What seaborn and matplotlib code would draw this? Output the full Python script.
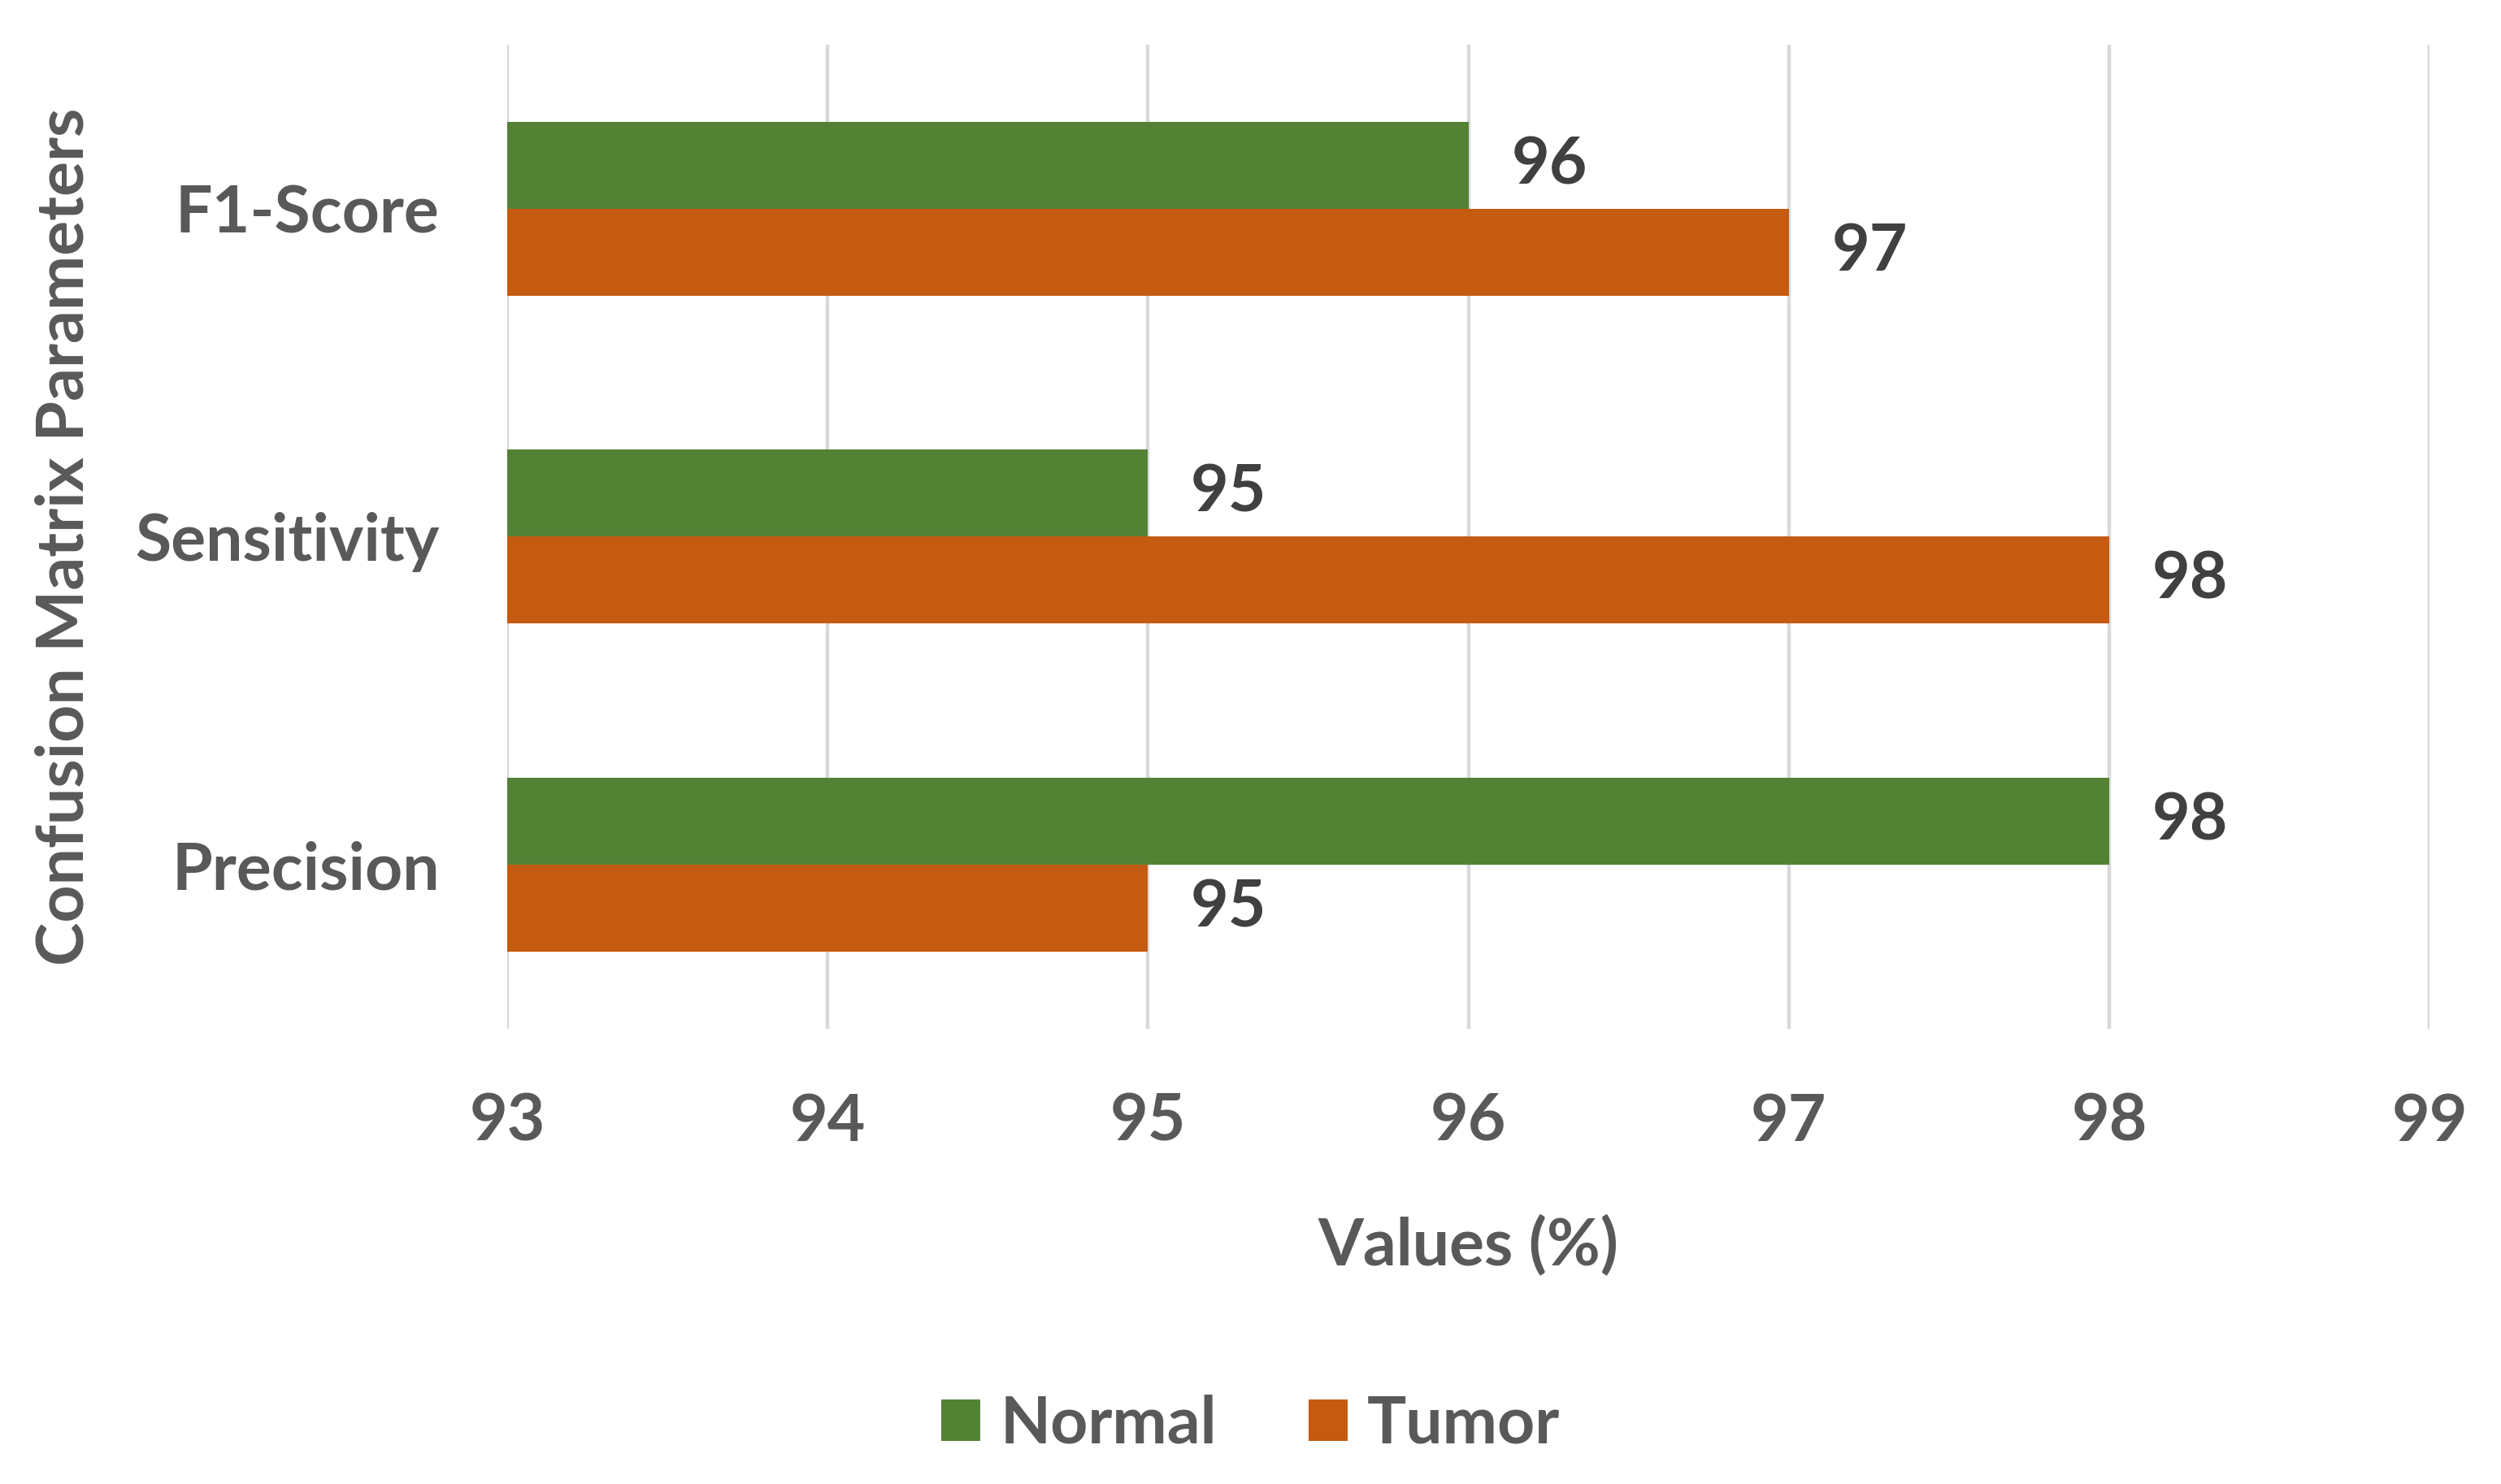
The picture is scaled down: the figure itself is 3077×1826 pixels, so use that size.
import pandas as pd
import matplotlib.pyplot as plt
import seaborn as sns

# values
parameters = ['F1-Score', 'Sensitivity', 'Precision']
normal_values = [96, 95, 98]
tumor_values = [97, 98, 95]
x_ticks = [93, 94, 95, 96, 97, 98, 99]

df = pd.DataFrame({
    'Parameter': parameters * 2,
    'Value': normal_values + tumor_values,
    'Class': ['Normal'] * 3 + ['Tumor'] * 3,
})

sns.set_style("white")
plt.rcParams['font.family'] = ['Lato', 'DejaVu Sans']
plt.rcParams['font.weight'] = 'bold'

text_grey = '#595959'
palette = {'Normal': '#548235', 'Tumor': '#C55A11'}

fig = plt.figure(figsize=(15.385, 9.13), dpi=200)
ax = fig.add_axes([0.2028, 0.3067, 0.7686, 0.6633])

sns.barplot(data=df, y='Parameter', x='Value', hue='Class', order=parameters,
            palette=palette, width=0.53, saturation=1, linewidth=0,
            ax=ax, orient='h')

ax.set_xlim(93, 99)
ax.set_xticks(x_ticks)
ax.set_ylim(2.5, -0.5)
ax.xaxis.grid(True, color='#D9D9D9', linewidth=1.6)
ax.set_axisbelow(True)
for s in ax.spines.values():
    s.set_visible(False)
ax.tick_params(axis='both', length=0, labelsize=29, labelcolor=text_grey)
ax.tick_params(axis='x', pad=28)
ax.tick_params(axis='y', pad=30)

ax.set_xlabel('Values (%)', fontsize=29, color=text_grey, fontweight='bold', labelpad=28)
ax.set_ylabel('Confusion Matrix Parameters', fontsize=29, color=text_grey,
              fontweight='bold', labelpad=18)

for container in ax.containers:
    ax.bar_label(container, fmt='%d', padding=19, fontsize=29, color='#404040',
                 fontweight='bold')

handles, labels = ax.get_legend_handles_labels()
ax.legend_.remove()
fig.legend(handles, labels, loc='center', bbox_to_anchor=(0.5, 0.04), ncol=2,
           frameon=False, fontsize=29, labelcolor=text_grey, handlelength=0.6,
           handleheight=0.6, handletextpad=0.3, columnspacing=1.4)

plt.savefig('out.png', dpi=200)
